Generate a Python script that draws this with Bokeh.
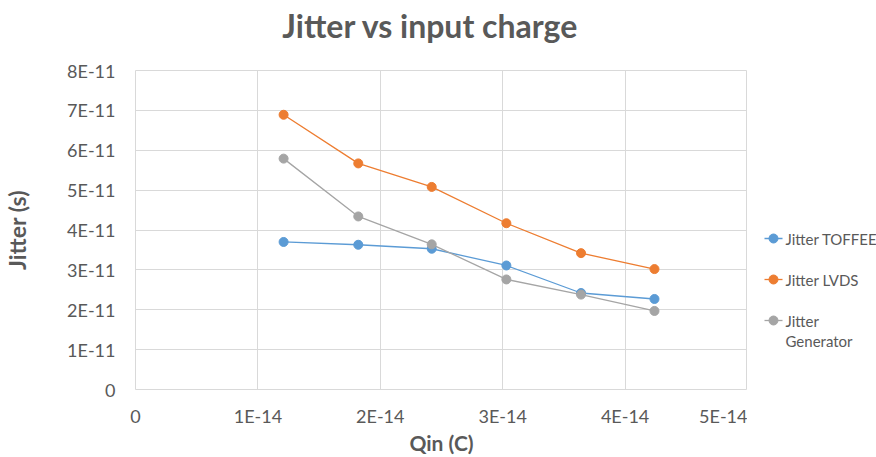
from bokeh.plotting import figure
from bokeh.layouts import row, column
from bokeh.models import FixedTicker, Range1d, Label
from bokeh.embed import file_html
from bokeh.resources import INLINE

qin = [1.21e-14, 1.82e-14, 2.42e-14, 3.03e-14, 3.64e-14, 4.24e-14]
jitter_toffee = [3.70e-11, 3.63e-11, 3.53e-11, 3.11e-11, 2.42e-11, 2.27e-11]
jitter_lvds = [6.89e-11, 5.67e-11, 5.08e-11, 4.17e-11, 3.42e-11, 3.02e-11]
jitter_gen = [5.79e-11, 4.34e-11, 3.64e-11, 2.76e-11, 2.38e-11, 1.97e-11]

x_ticks = [0, 1e-14, 2e-14, 3e-14, 4e-14, 5e-14]
x_tick_labels = ["0", "1E-14", "2E-14", "3E-14", "4E-14", "5E-14"]
y_ticks = [0, 1e-11, 2e-11, 3e-11, 4e-11, 5e-11, 6e-11, 7e-11, 8e-11]
y_tick_labels = ["0", "1E-11", "2E-11", "3E-11", "4E-11", "5E-11", "6E-11", "7E-11", "8E-11"]

series_names = ["Jitter TOFFEE", "Jitter LVDS", "Jitter Generator"]
series_values = [jitter_toffee, jitter_lvds, jitter_gen]
series_colors = ["#5B9BD5", "#ED7D31", "#A5A5A5"]

title_text = "Jitter vs input charge"

FONT = "Lato"
TXT = "#595959"
GRID = "#D9D9D9"

W, H = 876, 457
TITLE_H = 50
MAIN_W = 747
LEG_W = W - MAIN_W
BODY_H = H - TITLE_H

# ---- title strip ----
tf = figure(width=W, height=TITLE_H, output_backend="svg", toolbar_location=None,
            x_range=Range1d(0, W), y_range=Range1d(0, TITLE_H),
            x_axis_location=None, y_axis_location=None, min_border=0)
tf.frame_align = False
tf.outline_line_color = None
tf.grid.visible = False
tf.add_layout(Label(x=430, y=TITLE_H - 25, text=title_text, text_font=FONT,
                    text_font_size="32px", text_font_style="bold", text_color=TXT,
                    text_align="center", text_baseline="middle"))

# ---- main chart ----
p = figure(width=MAIN_W, height=BODY_H, output_backend="svg", toolbar_location=None,
           x_range=Range1d(0, 5e-14), y_range=Range1d(0, 8e-11),
           min_border_left=134, min_border_right=0, min_border_top=70 - TITLE_H,
           min_border_bottom=67)
p.frame_align = False

p.outline_line_color = GRID
p.background_fill_color = "white"
p.border_fill_color = "white"

p.xaxis.ticker = FixedTicker(ticks=x_ticks)
p.yaxis.ticker = FixedTicker(ticks=y_ticks)
p.xaxis.major_label_overrides = {t: l for t, l in zip(x_ticks, x_tick_labels)}
p.yaxis.major_label_overrides = {t: l for t, l in zip(y_ticks, y_tick_labels)}

for ax in (p.xaxis[0], p.yaxis[0]):
    ax.axis_line_color = None
    ax.major_tick_line_color = None
    ax.minor_tick_line_color = None
    ax.major_label_text_font = FONT
    ax.major_label_text_font_size = "18px"
    ax.major_label_text_color = TXT
    ax.axis_label_text_font = FONT
    ax.axis_label_text_font_style = "bold"
    ax.axis_label_text_color = TXT

p.xaxis.axis_label = "Qin (C)"
p.yaxis.axis_label = "Jitter (s)"
p.xaxis.axis_label_text_font_size = "21px"
p.yaxis.axis_label_text_font_size = "23px"
p.xaxis.major_label_standoff = 9
p.yaxis.major_label_standoff = 14
p.xaxis.axis_label_standoff = 0
p.yaxis.axis_label_standoff = 33

p.xgrid.grid_line_color = GRID
p.ygrid.grid_line_color = GRID

for name, ys, col in zip(series_names, series_values, series_colors):
    p.line(qin, ys, line_color=col, line_width=1.3)
    p.scatter(qin, ys, size=9, fill_color=col, line_color=col)

# ---- legend strip (right) ----
lg = figure(width=LEG_W, height=BODY_H, output_backend="svg", toolbar_location=None,
            x_range=Range1d(0, LEG_W), y_range=Range1d(0, BODY_H),
            x_axis_location=None, y_axis_location=None, min_border=0)
lg.frame_align = False
lg.outline_line_color = None
lg.grid.visible = False

first_y = H - 238   # page y 238 -> legend strip coords (y up)
step = 41
for i, (name, col) in enumerate(zip(series_names, series_colors)):
    yc = first_y - i * step
    lg.segment(x0=[17], y0=[yc], x1=[35], y1=[yc], line_color=col, line_width=1.3)
    lg.scatter(x=[26], y=[yc], size=9, fill_color=col, line_color=col)
    words = name.split(" ", 1) if name == "Jitter Generator" else [name]
    for j, w in enumerate(words):
        lg.add_layout(Label(x=38, y=yc - j * 20, text=w, text_font=FONT,
                            text_font_size="15px", text_color=TXT,
                            text_baseline="middle"))

layout = column(tf, row(p, lg, spacing=0), spacing=0)
open("out.html", "w").write(file_html(layout, INLINE))
